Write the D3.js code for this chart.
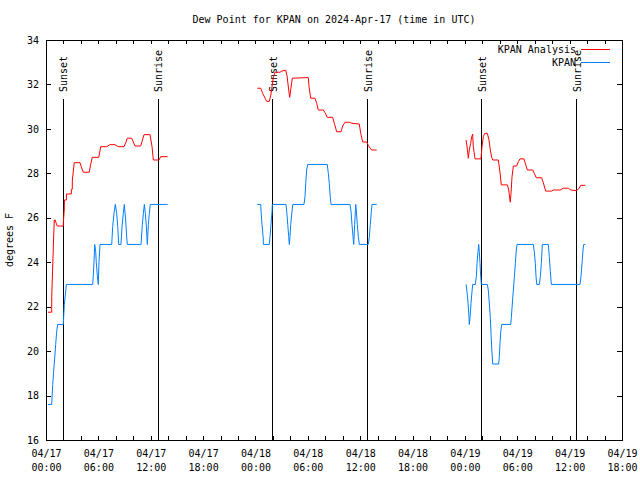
<!DOCTYPE html>
<html><head><meta charset="utf-8">
<script src="https://cdn.jsdelivr.net/npm/d3@7"></script>
<style>
body{margin:0;background:#fff;}
svg{display:block;}
text{font-family:"DejaVu Sans Mono","Liberation Mono",monospace;font-size:10px;fill:#000;}
</style></head>
<body>
<svg id="chart" width="640" height="480"></svg>
<script>
// ---- DATA (hours after 2024-04-17 00:00 UTC; null = gap) ----
const titleText = "Dew Point for KPAN on 2024-Apr-17 (time in UTC)";
const yLabel = "degrees F";
const yTicks = [16,18,20,22,24,26,28,30,32,34];
const analysisHours = [
 0.23,0.65,0.66,0.77,0.88,0.95,1.06,1.14,1.29,1.98,2.0,2.09,2.11,2.33,2.34,2.9,2.91,3.01,3.02,3.24,3.9,4.04,4.27,4.96,5.12,5.3,6.04,6.27,6.96,7.33,7.9,8.28,8.94,9.17,9.31,9.82,10.2,10.85,11.23,11.92,12.15,12.3,12.95,13.14,13.94,
 null,
 24.21,24.6,24.83,25.1,25.29,25.59,25.78,26.05,26.24,26.81,27.01,27.47,27.62,27.81,27.92,28.04,28.22,30.06,30.14,30.33,30.82,31.02,31.2,31.78,31.97,32.23,32.85,33.04,33.31,33.8,34.0,34.26,34.75,35.03,35.9,36.06,36.29,36.75,36.93,37.13,37.32,37.89,
 null,
 48.13,48.27,48.39,48.5,48.66,48.78,48.89,48.96,49.16,49.84,49.96,50.11,50.27,50.57,50.76,50.91,51.07,51.19,51.83,51.99,52.17,52.86,53.02,53.09,53.2,53.28,53.4,53.55,53.93,54.12,54.31,54.77,54.92,55.15,55.77,55.95,56.18,56.8,56.98,57.26,57.95,58.13,58.9,59.28,59.85,60.12,60.81,61.11,61.27,61.8
];
const analysisDewpt = [
 21.75,21.75,22.45,23.83,25.18,25.9,25.9,25.78,25.63,25.63,25.86,26.35,26.8,26.8,27.07,27.07,27.28,27.28,27.7,28.48,28.48,28.3,28.05,28.05,28.4,28.72,28.72,29.2,29.2,29.29,29.29,29.2,29.2,29.41,29.58,29.58,29.23,29.23,29.74,29.74,29.2,28.6,28.6,28.75,28.75,
 null,
 31.83,31.83,31.6,31.38,31.24,31.24,31.57,32.32,32.55,32.55,32.6,32.64,32.38,31.75,31.42,31.75,32.28,32.31,31.9,31.38,31.38,31.15,30.85,30.85,30.73,30.52,30.52,30.25,29.87,29.87,30.13,30.3,30.3,30.25,30.22,29.8,29.41,29.41,29.26,29.14,29.05,29.05,
 null,
 29.5,29.13,28.68,29.05,29.35,29.65,29.76,29.2,28.65,28.65,29.2,29.65,29.8,29.8,29.5,29.05,28.72,28.6,28.6,28.15,27.48,27.48,27.25,27.03,26.7,27.1,27.85,28.33,28.33,28.52,28.65,28.65,28.45,28.15,28.15,28.0,27.8,27.8,27.58,27.2,27.2,27.25,27.25,27.33,27.33,27.25,27.22,27.34,27.46,27.46
];
const obsHours = [
 0.23,0.65,0.77,0.88,1.0,1.11,1.23,1.34,1.98,2.1,2.26,2.33,5.35,5.42,5.5,5.58,5.69,5.76,5.88,5.99,6.07,6.19,7.53,7.64,7.79,7.94,8.1,8.22,8.33,8.59,8.71,8.86,8.97,9.13,9.25,9.32,10.89,11.04,11.16,11.27,11.38,11.5,11.61,11.73,11.84,11.95,13.94,
 null,
 24.21,24.6,24.64,24.75,24.89,24.9,25.59,25.67,25.78,25.9,25.93,27.5,27.58,27.7,27.81,27.88,27.96,28.04,28.19,28.27,29.56,29.68,29.76,29.87,29.99,32.23,32.35,32.46,32.58,32.66,34.83,34.95,35.06,35.18,35.26,35.37,35.49,35.56,35.67,35.79,35.9,36.93,37.05,37.16,37.28,37.36,37.89,
 null,
 48.13,48.24,48.36,48.47,48.5,48.59,48.7,48.81,48.89,49.19,49.31,49.39,49.5,49.58,49.65,49.73,49.81,49.88,50.57,50.68,50.8,50.91,50.99,51.11,51.19,51.87,51.94,52.02,52.1,52.22,53.25,53.32,53.43,53.55,53.66,53.78,53.89,53.97,55.84,55.95,56.07,56.15,56.23,56.53,56.64,56.76,56.87,57.56,57.67,57.79,57.9,61.19,61.3,61.42,61.53,61.61,61.8
];
const obsDewpt = [
 17.6,17.6,18.5,19.1,19.7,20.3,20.9,21.2,21.2,22.1,22.7,23.0,23.0,23.4,24.0,24.8,24.5,24.0,23.4,23.0,24.0,24.8,24.8,25.6,26.2,26.6,26.2,25.6,24.8,24.8,25.6,26.2,26.6,25.9,25.1,24.8,24.8,25.7,26.2,26.6,26.2,25.6,24.8,25.7,26.2,26.6,26.6,
 null,
 26.6,26.6,26.3,25.7,25.1,24.8,24.8,25.15,25.7,26.3,26.6,26.6,26.3,25.7,25.15,24.8,25.15,25.7,26.3,26.6,26.6,26.95,27.55,28.15,28.4,28.4,28.0,27.55,26.9,26.6,26.6,26.3,25.7,25.15,24.8,25.7,26.6,26.3,25.7,25.15,24.8,24.8,25.15,25.7,26.3,26.6,26.6,
 null,
 23.0,22.67,22.15,21.52,21.2,21.52,22.15,22.67,23.0,23.0,23.35,23.95,24.47,24.8,24.47,23.95,23.35,23.0,23.0,22.75,22.12,21.52,20.8,19.87,19.42,19.42,19.72,20.35,20.87,21.2,21.2,21.52,22.12,22.75,23.3,23.95,24.55,24.8,24.8,24.47,23.95,23.35,23.0,23.0,23.35,23.95,24.8,24.8,24.25,23.58,23.0,23.0,23.35,23.95,24.55,24.8,24.8
];
const sunsetHours = [1.98, 25.98, 49.92];
const sunriseHours = [12.87, 36.86, 60.83];
const seriesNames = ["KPAN Analysis", "KPAN"];
const seriesColors = ["#ff0000", "#0080ff"];

// ---- CHART ----
const t0 = Date.UTC(2024, 3, 17);
const toDate = h => new Date(t0 + h * 3600000);
const svg = d3.select("#chart");
const L = 46, R = 622, T = 40, B = 440;

const x = d3.scaleUtc().domain([toDate(0), toDate(66)]).range([L, R]);
const y = d3.scaleLinear().domain([16, 34]).range([B, T]);

svg.append("rect").attr("width", 640).attr("height", 480).attr("fill", "#fff");

// title
svg.append("text").attr("x", 334).attr("y", 23).attr("text-anchor", "middle").text(titleText);

// y label
svg.append("text").attr("transform", "translate(13,240) rotate(-90)")
  .attr("text-anchor", "middle").text(yLabel);

const xTickVals = d3.utcHour.every(2).range(toDate(0), toDate(66.01));
const fmtD = d3.utcFormat("%m/%d"), fmtT = d3.utcFormat("%H:%M");

// bottom axis
const gx = svg.append("g").attr("transform", `translate(0,${B})`)
  .call(d3.axisBottom(x).tickValues(xTickVals).tickSize(-4).tickSizeOuter(0).tickPadding(10)
    .tickFormat(d => d.getUTCHours() % 6 === 0 ? "x" : ""));
gx.selectAll(".tick text").each(function(d) {
  const t = d3.select(this);
  if (t.text() === "") return;
  t.text(null);
  t.append("tspan").attr("x", 0).text(fmtD(d));
  t.append("tspan").attr("x", 0).attr("dy", "1.4em").text(fmtT(d));
});
// top axis (ticks only)
svg.append("g").attr("transform", `translate(0,${T})`)
  .call(d3.axisTop(x).tickValues(xTickVals).tickSize(-4).tickSizeOuter(0).tickFormat(""));
// left axis
svg.append("g").attr("transform", `translate(${L},0)`)
  .call(d3.axisLeft(y).tickValues(yTicks).tickSize(-5).tickSizeOuter(0).tickPadding(7).tickFormat(d3.format("d")));
// right axis
svg.append("g").attr("transform", `translate(${R},0)`)
  .call(d3.axisRight(y).tickValues(yTicks).tickSize(-5).tickSizeOuter(0).tickFormat(""));

svg.selectAll(".domain").remove();
svg.selectAll(".tick line").attr("stroke", "#000").attr("shape-rendering", "crispEdges");
svg.selectAll(".tick text").attr("fill", "#000");
svg.selectAll("g").attr("font-family", null).attr("font-size", null);

// frame
svg.append("rect").attr("x", L).attr("y", T).attr("width", R - L).attr("height", B - T)
  .attr("fill", "none").attr("stroke", "#000").attr("shape-rendering", "crispEdges");

// sunset / sunrise markers
const markers = sunsetHours.map(h => ({h, label: "Sunset"}))
  .concat(sunriseHours.map(h => ({h, label: "Sunrise"})));
const mg = svg.append("g");
mg.selectAll("line").data(markers).join("line")
  .attr("x1", d => x(toDate(d.h))).attr("x2", d => x(toDate(d.h)))
  .attr("y1", 99).attr("y2", B).attr("stroke", "#000").attr("shape-rendering", "crispEdges");
mg.selectAll("text").data(markers).join("text")
  .attr("transform", d => `translate(${x(toDate(d.h)) + 0.5},92) rotate(-90)`)
  .attr("dominant-baseline", "central").attr("text-anchor", "start")
  .text(d => d.label);

// series
function pts(hs, vs) { return hs.map((h, i) => ({h, v: vs[i]})); }
const line = d3.line().defined(d => d.h != null && d.v != null)
  .x(d => x(toDate(d.h))).y(d => y(d.v));
const series = [pts(analysisHours, analysisDewpt), pts(obsHours, obsDewpt)];
svg.append("g").selectAll("path").data(series).join("path")
  .attr("d", line).attr("fill", "none")
  .attr("stroke", (d, i) => seriesColors[i]).attr("stroke-width", 1);

// legend
const lg = svg.append("g");
seriesNames.forEach((n, i) => {
  const yy = 49.5 + i * 12.5;
  lg.append("text").attr("x", 576).attr("y", yy).attr("dominant-baseline", "central")
    .attr("text-anchor", "end").text(n);
  lg.append("line").attr("x1", 581).attr("x2", 610).attr("y1", yy).attr("y2", yy)
    .attr("stroke", seriesColors[i]).attr("stroke-width", 1).attr("shape-rendering", "crispEdges");
});
</script>
</body></html>
